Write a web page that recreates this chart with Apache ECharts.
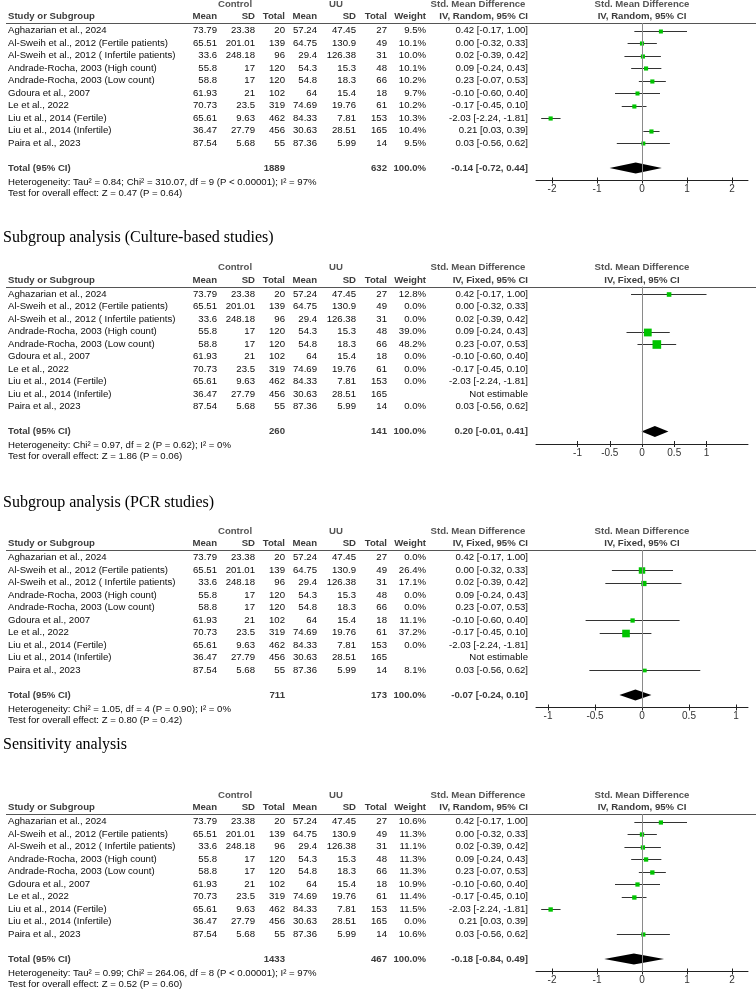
<!DOCTYPE html>
<html><head><meta charset="utf-8">
<script src="https://cdn.jsdelivr.net/npm/echarts@6/dist/echarts.min.js"></script>
<style>html,body{margin:0;padding:0;background:#fff}#c{width:756px;height:992px}</style>
</head><body><div id="c"></div>
<script>
// ---------------- data ----------------
const studies = ['Aghazarian et al., 2024','Al-Sweih et al., 2012 (Fertile patients)','Al-Sweih et al., 2012 ( Infertile patients)','Andrade-Rocha, 2003 (High count)','Andrade-Rocha, 2003 (Low count)','Gdoura et al., 2007','Le et al., 2022','Liu et al., 2014 (Fertile)','Liu et al., 2014 (Infertile)','Paira et al., 2023'];
const ctrlMean = [73.79, 65.51, 33.6, 55.8, 58.8, 61.93, 70.73, 65.61, 36.47, 87.54];
const ctrlSD   = [23.38, 201.01, 248.18, 17, 17, 21, 23.5, 9.63, 27.79, 5.68];
const ctrlN    = [20, 139, 96, 120, 120, 102, 319, 462, 456, 55];
const uuMean   = [57.24, 64.75, 29.4, 54.3, 54.8, 64, 74.69, 84.33, 30.63, 87.36];
const uuSD     = [47.45, 130.9, 126.38, 15.3, 18.3, 15.4, 19.76, 7.81, 28.51, 5.99];
const uuN      = [27, 49, 31, 48, 66, 18, 61, 153, 165, 14];
const smd   = [0.42, 0.00, 0.02, 0.09, 0.23, -0.10, -0.17, -2.03, 0.21, 0.03];
const smdLo = [-0.17, -0.32, -0.39, -0.24, -0.07, -0.60, -0.45, -2.24, 0.03, -0.56];
const smdHi = [1.00, 0.33, 0.42, 0.43, 0.53, 0.40, 0.10, -1.81, 0.39, 0.62];
// weights per analysis (null = not estimable)
const weightsAll     = [9.5, 10.1, 10.0, 10.1, 10.2, 9.7, 10.2, 10.3, 10.4, 9.5];
const weightsCulture = [12.8, 0.0, 0.0, 39.0, 48.2, 0.0, 0.0, 0.0, null, 0.0];
const weightsPCR     = [0.0, 26.4, 17.1, 0.0, 0.0, 11.1, 37.2, 0.0, null, 8.1];
const weightsSens    = [10.6, 11.3, 11.1, 11.3, 11.3, 10.9, 11.4, 11.5, 0.0, 10.6];
const ctrlTotals = [1889, 260, 711, 1433];
const uuTotals   = [632, 141, 173, 467];
const pooledEst = [-0.14, 0.20, -0.07, -0.18];
const pooledLo  = [-0.72, -0.01, -0.24, -0.84];
const pooledHi  = [0.44, 0.41, 0.10, 0.49];
const methods = ['IV, Random, 95% CI', 'IV, Fixed, 95% CI', 'IV, Fixed, 95% CI', 'IV, Random, 95% CI'];
const titles = [null, 'Subgroup analysis (Culture-based studies)', 'Subgroup analysis (PCR studies)', 'Sensitivity analysis'];
const hetTexts = [
  'Heterogeneity: Tau\u00b2 = 0.84; Chi\u00b2 = 310.07, df = 9 (P < 0.00001); I\u00b2 = 97%',
  'Heterogeneity: Chi\u00b2 = 0.97, df = 2 (P = 0.62); I\u00b2 = 0%',
  'Heterogeneity: Chi\u00b2 = 1.05, df = 4 (P = 0.90); I\u00b2 = 0%',
  'Heterogeneity: Tau\u00b2 = 0.99; Chi\u00b2 = 264.06, df = 8 (P < 0.00001); I\u00b2 = 97%'
];
const testTexts = [
  'Test for overall effect: Z = 0.47 (P = 0.64)',
  'Test for overall effect: Z = 1.86 (P = 0.06)',
  'Test for overall effect: Z = 0.80 (P = 0.42)',
  'Test for overall effect: Z = 0.52 (P = 0.60)'
];
const ticksWide = [-2, -1, 0, 1, 2];
const ticksNarrow = [-1, -0.5, 0, 0.5, 1];

// ---------------- layout ----------------
const panelWeights = [weightsAll, weightsCulture, weightsPCR, weightsSens];
const panelTicks = [ticksWide, ticksNarrow, ticksNarrow, ticksWide];
const pxPerUnit = [45, 64.5, 94, 45];
const headerRowY = [16.5, 280, 543.5, 807.5];
const titleY = [null, 237.5, 502.5, 745];
const PLOT_L = 536, PLOT_W = 212;
const STEP = 12.5;
const COL = {name: 8, cMean: 217, cSD: 255, cN: 285, uMean: 317, uSD: 356, uN: 387, w: 426, ci: 528,
             ctrlHdr: 235, uuHdr: 336, smdHdr: 478, plotHdr: 642};
const FS = 9.6;
const SANS = '"Liberation Sans", Arial, sans-serif';
const SERIF = '"Liberation Serif", "Times New Roman", serif';

function txt(text, x, y, align, o) {
  o = o || {};
  return {type: 'text', x: x, y: y, silent: true, z: 10,
    style: {text: String(text), fill: o.color || '#0c0c0c', fontSize: o.size || FS,
      fontFamily: o.family || SANS, fontWeight: o.bold ? 'bold' : 'normal',
      align: align, verticalAlign: 'middle'}};
}
const f2 = v => v.toFixed(2);
const ciText = (e, l, h) => f2(e) + ' [' + f2(l) + ', ' + f2(h) + ']';

const elements = [];
const grids = [], xAxes = [], yAxes = [], series = [];

for (let p = 0; p < 4; p++) {
  const yB = headerRowY[p];
  const yA = yB - 12.5;
  const ul = yB + 6.5;
  const firstRow = yB + 14;
  const totalY = firstRow + 9 * STEP + 25;
  const hetY = totalY + 14;
  const testY = hetY + 11;
  const axisY = hetY - 1.5;
  const W = panelWeights[p];
  const hdr = '#3c3c3c', hdr2 = '#555';

  if (titles[p]) elements.push(txt(titles[p], 3, titleY[p], 'left', {family: SERIF, size: 16, color: '#000'}));
  // header rows
  elements.push(txt('Control', COL.ctrlHdr, yA, 'center', {bold: true, color: hdr2}));
  elements.push(txt('UU', COL.uuHdr, yA, 'center', {bold: true, color: hdr2}));
  elements.push(txt('Std. Mean Difference', COL.smdHdr, yA, 'center', {bold: true, color: hdr2}));
  elements.push(txt('Std. Mean Difference', COL.plotHdr, yA, 'center', {bold: true, color: hdr2}));
  elements.push(txt('Study or Subgroup', COL.name, yB, 'left', {bold: true, color: hdr}));
  [['Mean', COL.cMean], ['SD', COL.cSD], ['Total', COL.cN], ['Mean', COL.uMean], ['SD', COL.uSD], ['Total', COL.uN], ['Weight', COL.w], [methods[p], COL.ci]]
    .forEach(([t, x]) => elements.push(txt(t, x, yB, 'right', {bold: true, color: hdr})));
  elements.push(txt(methods[p], COL.plotHdr, yB, 'center', {bold: true, color: hdr}));
  elements.push({type: 'line', silent: true, shape: {x1: 6, y1: Math.round(ul) + 0.5, x2: 756, y2: Math.round(ul) + 0.5},
    style: {stroke: '#555', lineWidth: 1}});

  // study rows
  for (let i = 0; i < studies.length; i++) {
    const y = firstRow + i * STEP;
    elements.push(txt(studies[i], COL.name, y, 'left'));
    elements.push(txt(ctrlMean[i], COL.cMean, y, 'right'));
    elements.push(txt(ctrlSD[i], COL.cSD, y, 'right'));
    elements.push(txt(ctrlN[i], COL.cN, y, 'right'));
    elements.push(txt(uuMean[i], COL.uMean, y, 'right'));
    elements.push(txt(uuSD[i], COL.uSD, y, 'right'));
    elements.push(txt(uuN[i], COL.uN, y, 'right'));
    if (W[i] === null) {
      elements.push(txt('Not estimable', COL.ci, y, 'right'));
    } else {
      elements.push(txt(W[i].toFixed(1) + '%', COL.w, y, 'right'));
      elements.push(txt(ciText(smd[i], smdLo[i], smdHi[i]), COL.ci, y, 'right'));
    }
  }
  // totals
  elements.push(txt('Total (95% CI)', COL.name, totalY, 'left', {bold: true, color: hdr}));
  elements.push(txt(ctrlTotals[p], COL.cN, totalY, 'right', {bold: true, color: hdr}));
  elements.push(txt(uuTotals[p], COL.uN, totalY, 'right', {bold: true, color: hdr}));
  elements.push(txt('100.0%', COL.w, totalY, 'right', {bold: true, color: hdr}));
  elements.push(txt(ciText(pooledEst[p], pooledLo[p], pooledHi[p]), COL.ci, totalY, 'right', {bold: true, color: hdr}));
  elements.push(txt(hetTexts[p], COL.name, hetY, 'left'));
  elements.push(txt(testTexts[p], COL.name, testY, 'left'));

  // forest plot grid (y in row units: row i at value i)
  const R = (PLOT_W / 2) / pxPerUnit[p];
  const yMin = -(firstRow - ul) / STEP;
  const yMax = (axisY - firstRow) / STEP;
  const totalIdx = (totalY - firstRow) / STEP;
  const gi = grids.length;
  grids.push({left: PLOT_L, width: PLOT_W, top: ul, height: axisY - ul});
  xAxes.push({gridIndex: gi, type: 'value', min: -R, max: R, position: 'bottom',
    axisLine: {show: true, onZero: false, lineStyle: {color: '#222', width: 1}},
    axisTick: {show: false},
    axisLabel: {show: true, customValues: panelTicks[p], formatter: v => String(v), margin: 4,
      fontSize: 10, fontFamily: SANS, color: '#333'},
    splitLine: {show: false}});
  yAxes.push({gridIndex: gi, type: 'value', inverse: true, min: yMin, max: yMax, show: false});
  // tick marks crossing the axis line
  const gt = grids.length;
  grids.push({left: PLOT_L, width: PLOT_W, top: ul, height: axisY - ul + 3});
  xAxes.push({gridIndex: gt, type: 'value', min: -R, max: R, position: 'bottom',
    axisLine: {show: false}, axisLabel: {show: false}, splitLine: {show: false},
    axisTick: {show: true, inside: true, length: 6, customValues: panelTicks[p], lineStyle: {color: '#222', width: 1}}});
  yAxes.push({gridIndex: gt, type: 'value', min: 0, max: 1, show: false});

  const pts = [];
  for (let i = 0; i < studies.length; i++) {
    if (W[i]) pts.push([smdLo[i], smdHi[i], smd[i], i, W[i]]);
  }
  series.push({type: 'custom', xAxisIndex: gi, yAxisIndex: gi, data: pts, silent: true,
    encode: {x: [0, 1, 2], y: 3},
    renderItem: function (params, api) {
      const lo = api.coord([api.value(0), api.value(3)]);
      const hi = api.coord([api.value(1), api.value(3)]);
      const c = api.coord([api.value(2), api.value(3)]);
      const s = Math.max(3.5, 1.2 * Math.sqrt(api.value(4)) + 0.3);
      const y = Math.round(c[1]) + 0.5;
      return {type: 'group', children: [
        {type: 'line', shape: {x1: lo[0], y1: y, x2: hi[0], y2: y}, style: {stroke: '#333', lineWidth: 1}},
        {type: 'rect', shape: {x: c[0] - s / 2, y: y - s / 2, width: s, height: s}, style: {fill: '#00c400'}}
      ]};
    },
    markLine: {silent: true, symbol: ['none', 'none'], label: {show: false}, animation: false,
      lineStyle: {color: '#8a8a8a', width: 1, type: 'solid'}, data: [{xAxis: 0}]}
  });
  series.push({type: 'custom', xAxisIndex: gi, yAxisIndex: gi, silent: true,
    data: [[pooledLo[p], pooledHi[p], pooledEst[p], totalIdx]],
    encode: {x: [0, 1, 2], y: 3},
    renderItem: function (params, api) {
      const lo = api.coord([api.value(0), api.value(3)]);
      const hi = api.coord([api.value(1), api.value(3)]);
      const c = api.coord([api.value(2), api.value(3)]);
      const h = 5.5;
      return {type: 'polygon', shape: {points: [[lo[0], c[1]], [c[0], c[1] - h], [hi[0], c[1]], [c[0], c[1] + h]]},
        style: {fill: '#000'}};
    }
  });
}

const chart = echarts.init(document.getElementById('c'), null, {renderer: 'canvas'});
chart.setOption({
  animation: false,
  backgroundColor: '#fff',
  grid: grids, xAxis: xAxes, yAxis: yAxes, series: series,
  graphic: {elements: elements}
});
</script></body></html>
